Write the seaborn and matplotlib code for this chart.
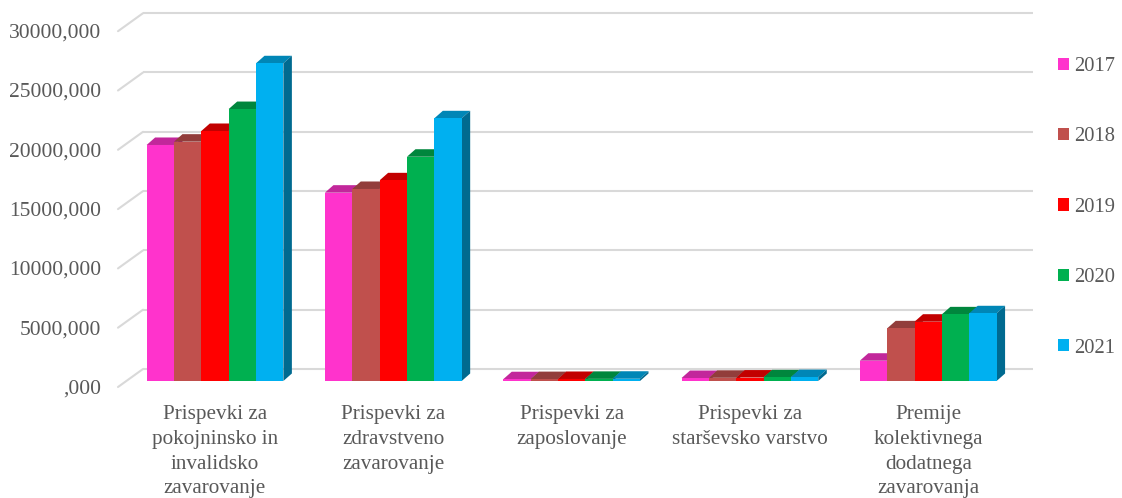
import matplotlib
matplotlib.use("Agg")
import matplotlib.pyplot as plt
import numpy as np
import pandas as pd
import seaborn as sns
from matplotlib.patches import Polygon, Patch

# ---------------- data ----------------
categories = [
    "Prispevki za\npokojninsko in\ninvalidsko\nzavarovanje",
    "Prispevki za\nzdravstveno\nzavarovanje",
    "Prispevki za\nzaposlovanje",
    "Prispevki za\nstarševsko varstvo",
    "Premije\nkolektivnega\ndodatnega\nzavarovanja",
]
years = ["2017", "2018", "2019", "2020", "2021"]
v2017 = [19900, 15880, 150, 250, 1710]
v2018 = [20180, 16190, 160, 270, 4440]
v2019 = [21080, 16920, 170, 290, 5000]
v2020 = [22930, 18910, 180, 310, 5620]
v2021 = [26790, 22150, 190, 330, 5710]
yticks = [0, 5000, 10000, 15000, 20000, 25000, 30000]
ytick_labels = [",000", "5000,000", "10000,000", "15000,000",
                "20000,000", "25000,000", "30000,000"]
colors = ["#FF33CC", "#C0504D", "#FF0000", "#00B050", "#00B0F0"]

series = [v2017, v2018, v2019, v2020, v2021]
df = pd.DataFrame({
    "cat": [c for s in series for c in categories],
    "year": [y for y, s in zip(years, series) for _ in s],
    "val": [v for s in series for v in s],
})

# ---------------- style ----------------
sns.set_theme(style="white")
plt.rcParams["font.family"] = ["Liberation Serif", "DejaVu Serif"]
TXT = "#595959"
FS_Y = 15.5
FS_X = 15.2
FS_L = 14.8

W, H = 1122, 498
fig = plt.figure(figsize=(W / 100, H / 100), dpi=100)
ax_l, ax_r, ax_b, ax_t = 118, 1008, 381, 25.2
ax = fig.add_axes([ax_l / W, (H - ax_b) / H, (ax_r - ax_l) / W, (ax_b - ax_t) / H])

sns.barplot(data=df, x="cat", y="val", hue="year", hue_order=years,
            order=categories, palette=colors, width=0.767, saturation=1,
            linewidth=0, legend=False, ax=ax)

spacing = 178.3
x0 = (ax_l - 215) / spacing
x1 = x0 + (ax_r - ax_l) / spacing
ax.set_xlim(x0, x1)
ax.set_ylim(0, 30000)
for s in ax.spines.values():
    s.set_visible(False)
ax.set_ylabel("")
ax.set_xlabel("")
ax.set_yticks([])
ax.set_xticks(range(len(categories)))
ax.set_xticklabels(categories, fontsize=FS_X, color=TXT, linespacing=1.4)
ax.tick_params(axis="x", length=0, pad=17.5)

# pixel -> data conversions
px_x = 1.0 / spacing
px_y = 30000.0 / (ax_b - ax_t)

# back-wall gridlines and left wall diagonals
GRID = "#D9D9D9"
for v, lab in zip(yticks, ytick_labels):
    ax.plot([x0 + 25 * px_x, x1 + 25 * px_x], [v + 12 * px_y] * 2,
            color=GRID, lw=1.5, zorder=0.5, clip_on=False, solid_capstyle="butt")
    ax.plot([x0, x0 + 25 * px_x], [v - 6 * px_y, v + 12 * px_y],
            color=GRID, lw=1.5, zorder=0.5, clip_on=False)
    ax.text(x0 - 17 * px_x, v - 8 * px_y, lab, ha="right", va="center",
            fontsize=FS_Y, color=TXT, clip_on=False)

# 3D faces for bars
dx, dy = 8.5 * px_x, 7.5 * px_y
for hi, cont in enumerate(ax.containers):
    base = np.array(matplotlib.colors.to_rgb(colors[hi]))
    top_c = base * 0.76
    side_c = base * 0.6
    for p in cont.patches:
        bx, bw, bh = p.get_x(), p.get_width(), p.get_height()
        p.set_zorder(3 + 2 * hi)
        top = Polygon([(bx, bh), (bx + bw, bh), (bx + bw + dx, bh + dy), (bx + dx, bh + dy)],
                      closed=True, facecolor=top_c, edgecolor="none",
                      zorder=2 + 2 * hi, clip_on=False)
        side = Polygon([(bx + bw, 0), (bx + bw + dx, dy), (bx + bw + dx, bh + dy), (bx + bw, bh)],
                       closed=True, facecolor=side_c, edgecolor="none",
                       zorder=2 + 2 * hi, clip_on=False)
        ax.add_patch(top)
        ax.add_patch(side)

# legend
handles = [Patch(facecolor=c, edgecolor="none") for c in colors]
fig.legend(handles, years, loc="upper left", bbox_to_anchor=(1058 / W, 1 - 57 / H),
           frameon=False, fontsize=FS_L, labelcolor=TXT, handlelength=0.55,
           handleheight=0.55, handletextpad=0.25, labelspacing=2.5, borderpad=0,
           borderaxespad=0)

fig.savefig("out.png", dpi=100, facecolor="white")
